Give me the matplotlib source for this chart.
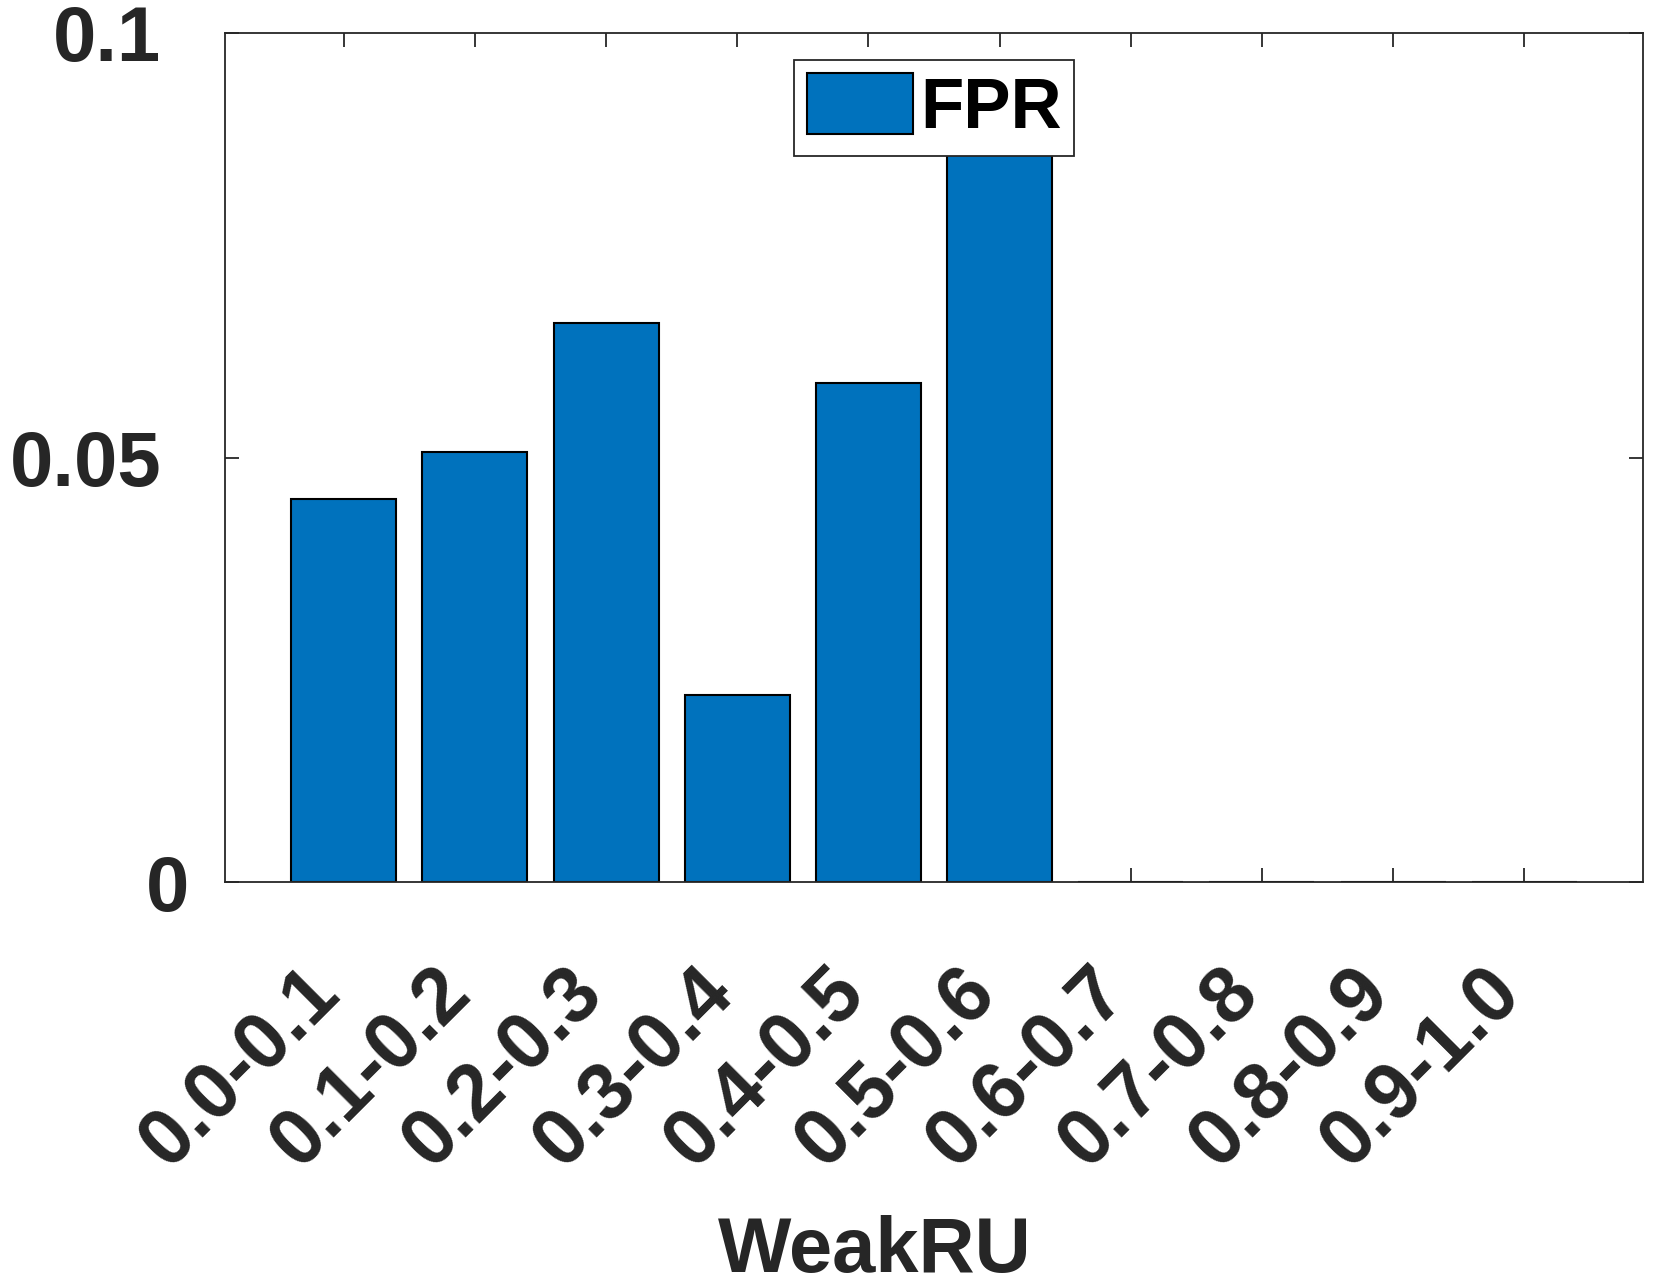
import matplotlib
matplotlib.use('Agg')
import matplotlib.pyplot as plt
import matplotlib.transforms as mtransforms

bins = ['0.0-0.1', '0.1-0.2', '0.2-0.3', '0.3-0.4', '0.4-0.5',
        '0.5-0.6', '0.6-0.7', '0.7-0.8', '0.8-0.9', '0.9-1.0']
fpr = [0.0451, 0.0507, 0.0659, 0.0220, 0.0588, 0.0900, 0, 0, 0, 0]
yticks = [0, 0.05, 0.1]
ytick_labels = ['0', '0.05', '0.1']

plt.rcParams['font.family'] = ['Liberation Sans', 'DejaVu Sans']
plt.rcParams['font.weight'] = 'bold'

dark = '#262626'
fig = plt.figure(figsize=(16.62, 12.88), dpi=100)
ax = fig.add_axes([225 / 1662, 1 - 882 / 1288, 1418 / 1662, 849 / 1288])

x = list(range(1, len(bins) + 1))
ax.bar(x, fpr, width=0.8, color='#0072BD', edgecolor='black',
       linewidth=1.5, label='FPR', zorder=2)

ax.set_xlim(0.095, 10.905)
ax.set_ylim(0, 0.1)
ax.set_xticks(x)
ax.set_xticklabels(bins, rotation=45, ha='right', va='top')
ax.set_yticks(yticks)
ax.set_yticklabels(ytick_labels)

for s in ax.spines.values():
    s.set_color(dark)
    s.set_linewidth(1.3)
ax.tick_params(axis='both', direction='in', length=10, width=1.3,
               color=dark, labelcolor=dark, top=True, right=True)
ax.tick_params(axis='x', pad=52, labelsize=57)
ax.tick_params(axis='y', pad=46, labelsize=56)

# nudge rotated labels so their ends sit under the ticks
shift = mtransforms.ScaledTranslation(11 / 100, 0, fig.dpi_scale_trans)
for lbl in ax.get_xticklabels():
    lbl.set_transform(lbl.get_transform() + shift)

# MATLAB puts the "0" label a bit closer to the axis
lbl0 = ax.get_yticklabels()[0]
lbl0.set_transform(lbl0.get_transform() +
                   mtransforms.ScaledTranslation(28 / 100, 0, fig.dpi_scale_trans))

ax.set_xlabel('WeakRU', fontsize=56, fontweight='bold', color=dark, va='baseline')
ax.xaxis.set_label_coords(0.458, -0.459)

leg = ax.legend(loc='upper center', bbox_to_anchor=(0.5, 0.968),
                fontsize=51, fancybox=False, edgecolor=dark, framealpha=1,
                handlelength=1.5, handleheight=0.95, handletextpad=0.1,
                borderpad=0.18, borderaxespad=0)
leg.get_frame().set_linewidth(1.3)
for t in leg.get_texts():
    t.set_color('black')

fig.savefig('out.png', dpi=100)
